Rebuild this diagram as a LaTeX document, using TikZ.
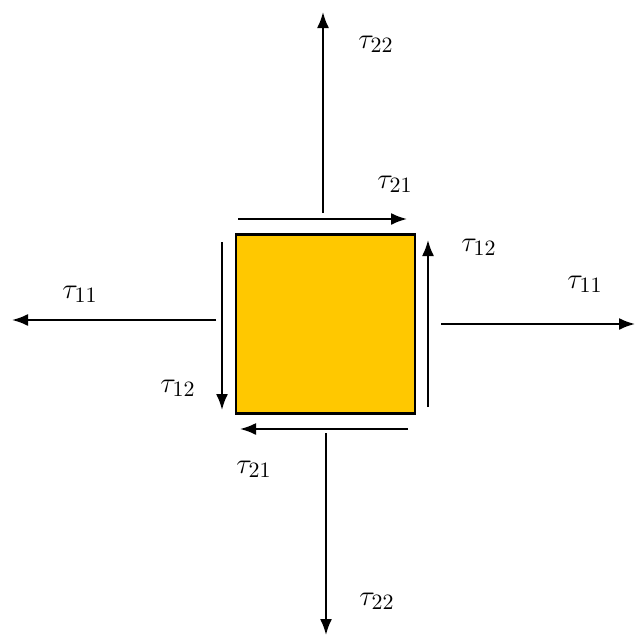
\documentclass[tikz,border=0pt]{standalone}
\usepackage{amsmath,amssymb}
\usepackage{xcolor}
\usepackage{tikz}
\usetikzlibrary{arrows.meta}

\definecolor{elemfill}{RGB}{255,200,0}

\begin{document}
\begin{tikzpicture}[x=0.5pt, y=-0.5pt, >={Latex[length=8pt,width=6pt]},
  every node/.style={font=\fontsize{15}{17}\selectfont},
  force/.style={->, line width=1pt},
  lbl/.style={inner sep=0pt}]
  \useasboundingbox (0,0) rectangle (637,637);
  \node (elem) [draw, line width=1.1pt, fill=elemfill, minimum size=89.5pt, inner sep=0pt] at (325.5,324) {};
  % normal stresses
  \coordinate (topS) at (323,213);  \coordinate (topE) at (323,12);
  \coordinate (botS) at (326,433);  \coordinate (botE) at (326,635);
  \coordinate (lefS) at (216,320);  \coordinate (lefE) at (12,320);
  \coordinate (rigS) at (441,324);  \coordinate (rigE) at (635,324);
  \draw[force] (topS) -- (topE);
  \draw[force] (botS) -- (botE);
  \draw[force] (lefS) -- (lefE);
  \draw[force] (rigS) -- (rigE);
  % shear stresses
  \coordinate (shT1) at (238,219);  \coordinate (shT2) at (407,219);
  \coordinate (shR1) at (428,407);  \coordinate (shR2) at (428,240);
  \coordinate (shL1) at (222,242);  \coordinate (shL2) at (222,410);
  \coordinate (shB1) at (408,429);  \coordinate (shB2) at (240,429);
  \draw[force] (shT1) -- (shT2);
  \draw[force] (shR1) -- (shR2);
  \draw[force] (shL1) -- (shL2);
  \draw[force] (shB1) -- (shB2);
  % labels
  \node (t22a) [lbl] at (376,44) {$\tau_{22}$};
  \node (t21a) [lbl] at (395,184) {$\tau_{21}$};
  \node (t12a) [lbl] at (479,247) {$\tau_{12}$};
  \node (t11a) [lbl] at (80,294) {$\tau_{11}$};
  \node (t11b) [lbl] at (585,284) {$\tau_{11}$};
  \node (t12b) [lbl] at (178,388) {$\tau_{12}$};
  \node (t21b) [lbl] at (254,469) {$\tau_{21}$};
  \node (t22b) [lbl] at (377,601) {$\tau_{22}$};
\end{tikzpicture}
\end{document}
